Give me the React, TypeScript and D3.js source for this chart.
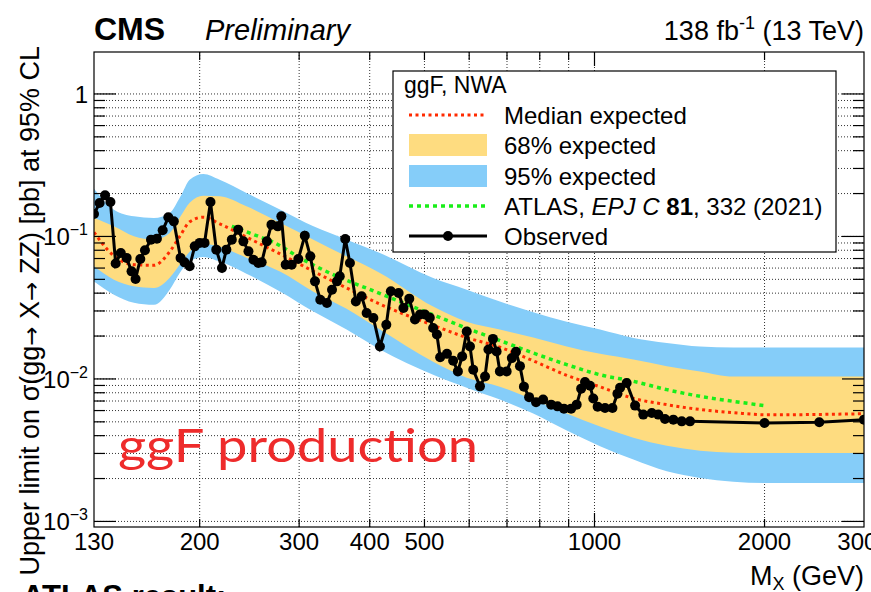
import * as d3 from "d3";

const W = 871;
const H = 592;
const marginLeft = 94;
const marginRight = 864;
const marginTop = 52;
const marginBottom = 527;

// observed limit (GeV, pb)
const obsMass = [
  130, 133, 136, 139, 142, 145, 148.5, 151.5, 154, 157, 160, 164, 168, 172, 176, 180, 185, 188, 192, 196,
  200, 204, 209, 214, 219, 223, 228, 234, 239, 244, 249, 254, 257.5, 263, 268, 275, 279, 284, 291, 299,
  307, 314, 320, 327, 336, 343, 350, 354, 362, 369, 378, 387, 395, 406, 417, 428, 436, 450, 459, 470,
  481, 491, 501, 511, 518, 526, 533, 548, 562, 573, 583, 594, 602, 610, 627, 640, 649, 661, 671, 680,
  699, 714, 726, 738, 750, 766, 788, 811, 838, 860, 883, 909, 930, 947, 962, 982, 995, 1013, 1044, 1076,
  1098, 1110, 1140, 1180, 1220, 1263, 1297, 1333, 1379, 1427, 1476, 2000, 2500, 3000,
];
const obsLimit = [
  0.1438, 0.1718, 0.1943, 0.1746, 0.0645, 0.0766, 0.0707, 0.0569, 0.0503, 0.0695, 0.0799, 0.095, 0.0965, 0.1104, 0.1362, 0.1276, 0.0707, 0.0658, 0.0617, 0.0852,
  0.0901, 0.0901, 0.1746, 0.0808, 0.0601, 0.0808, 0.095, 0.1116, 0.0924, 0.0786, 0.0687, 0.0652, 0.0658, 0.0924, 0.121, 0.1177, 0.1384, 0.0634, 0.0634, 0.0695,
  0.1013, 0.0725, 0.0484, 0.036, 0.0341, 0.0423, 0.0484, 0.0525, 0.0961, 0.0652, 0.035, 0.038, 0.029, 0.0268, 0.0169, 0.024, 0.0412, 0.0401, 0.0315, 0.0366,
  0.0261, 0.0283, 0.0283, 0.0269, 0.0228, 0.0205, 0.0142, 0.015, 0.0134, 0.0113, 0.0144, 0.0215, 0.0169, 0.0116, 0.00887, 0.0104, 0.0161, 0.0191, 0.0156, 0.0113,
  0.0113, 0.014, 0.0155, 0.0123, 0.00883, 0.00745, 0.00687, 0.00716, 0.0066, 0.00642, 0.00619, 0.00619, 0.0066, 0.00855, 0.0095, 0.00897, 0.00728, 0.00639, 0.00626, 0.00626,
  0.00788, 0.00869, 0.00937, 0.0065, 0.00562, 0.00577, 0.00562, 0.00524, 0.00518, 0.00504, 0.00504, 0.00491, 0.00496, 0.00518,
];

// expected limit and bands
const expMass = [130, 141, 153, 166, 177, 185, 192, 203, 217, 242, 278, 318, 364, 417, 518, 594, 680, 779, 893, 1023, 1172, 1343, 1538, 1761, 2018, 3000];
const expMedian = [0.107, 0.073, 0.0634, 0.0627, 0.0782, 0.1021, 0.1266, 0.1366, 0.1226, 0.0989, 0.0752, 0.0569, 0.0435, 0.0335, 0.0238, 0.0195, 0.0167, 0.0134, 0.0106, 0.0088, 0.0073, 0.0066, 0.0061, 0.0058, 0.0056, 0.0057];
const exp68Up = [0.1355, 0.1177, 0.1002, 0.095, 0.1058, 0.1384, 0.1726, 0.1933, 0.1911, 0.1627, 0.1244, 0.095, 0.0725, 0.0554, 0.0322, 0.0252, 0.0222, 0.0195, 0.0169, 0.015, 0.0137, 0.0123, 0.0113, 0.0104, 0.0104, 0.0104];
const exp68Down = [0.0617, 0.0497, 0.0447, 0.0435, 0.0514, 0.0645, 0.0782, 0.089, 0.0848, 0.071, 0.0566, 0.041, 0.0311, 0.0222, 0.0132, 0.0102, 0.00883, 0.00716, 0.00571, 0.00463, 0.00387, 0.0034, 0.00314, 0.00304, 0.00302, 0.00302];
const exp95Up = [0.2165, 0.1542, 0.1384, 0.1349, 0.1462, 0.1911, 0.2504, 0.2746, 0.2504, 0.202, 0.1542, 0.1177, 0.095, 0.0766, 0.0511, 0.0423, 0.0349, 0.0294, 0.0252, 0.0222, 0.0194, 0.0179, 0.0169, 0.0166, 0.0166, 0.0166];
const exp95Down = [0.0482, 0.039, 0.0343, 0.0332, 0.0423, 0.0566, 0.0666, 0.0718, 0.0666, 0.0548, 0.041, 0.0297, 0.0222, 0.0161, 0.0107, 0.00869, 0.00716, 0.00571, 0.00434, 0.00337, 0.00272, 0.00225, 0.00202, 0.0019, 0.00186, 0.00186];

// ATLAS, EPJ C 81, 332 (2021)
const atlasMass = [228, 241, 254, 268, 305, 350, 401, 459, 526, 594, 680, 779, 893, 1023, 1172, 1343, 1538, 1761, 2000];
const atlasLimit = [0.1177, 0.1086, 0.1002, 0.0924, 0.0687, 0.0525, 0.0423, 0.0341, 0.0275, 0.0227, 0.0186, 0.0152, 0.0126, 0.0107, 0.00962, 0.00841, 0.00755, 0.00696, 0.0065];

const xTickLabels = [130, 200, 300, 400, 500, 1000, 2000, 3000];
const xGrid = [200, 300, 400, 500, 600, 700, 800, 900, 1000, 2000];
const yTickLabels = [
  { v: 1, base: "1", exp: "" },
  { v: 0.1, base: "10", exp: "\u22121" },
  { v: 0.01, base: "10", exp: "\u22122" },
  { v: 0.001, base: "10", exp: "\u22123" },
];

const font = "'Liberation Sans', Arial, Helvetica, sans-serif";
const blue = "#85cdf9";
const yellow = "#fedc80";
const red = "#ff2a00";
const green = "#19ee19";

const App = () => {
  const x = d3.scaleLog().domain([130, 3000]).range([marginLeft, marginRight]);
  const y = d3.scaleLog().domain([9.14e-4, 1.97]).range([marginBottom, marginTop]);

  const idx = expMass.map((_, i) => i);
  const band = (lo: number[], hi: number[]) =>
    d3
      .area<number>()
      .x((i) => x(expMass[i]))
      .y0((i) => y(lo[i]))
      .y1((i) => y(hi[i]))
      .curve(d3.curveMonotoneX)(idx);

  const medianPath = d3
    .line<number>()
    .x((i) => x(expMass[i]))
    .y((i) => y(expMedian[i]))
    .curve(d3.curveMonotoneX)(idx);

  const atlasPath = d3
    .line<number>()
    .x((i) => x(atlasMass[i]))
    .y((i) => y(atlasLimit[i]))
    .curve(d3.curveMonotoneX)(atlasMass.map((_, i) => i));

  const obsPath = d3
    .line<number>()
    .x((i) => x(obsMass[i]))
    .y((i) => y(obsLimit[i]))(obsMass.map((_, i) => i));

  // y ticks on every k*10^n inside the range
  const yTicks: { v: number; major: boolean }[] = [];
  for (let n = -4; n <= 0; n++) {
    for (let k = 1; k <= 9; k++) {
      const v = k * Math.pow(10, n);
      if (v >= 9.14e-4 && v <= 1.97) yTicks.push({ v, major: k === 1 });
    }
  }

  const legendX = 393;
  const legendY = 71;
  const rowY = [115, 145, 176, 206, 236];
  const symX0 = 409;
  const symX1 = 487;
  const textX = 504;

  return (
    <div style={{ position: "fixed", left: 0, top: 0, width: W, height: H, background: "#fff" }}>
      <svg width={W} height={H} viewBox={`0 0 ${W} ${H}`} fontFamily={font}>
        <defs>
          <clipPath id="plot">
            <rect x={marginLeft} y={marginTop} width={marginRight - marginLeft} height={marginBottom - marginTop} />
          </clipPath>
        </defs>

        {/* grid */}
        <g stroke="#333" strokeWidth={1} strokeDasharray="1,2">
          {xGrid.map((m) => (
            <line key={m} x1={x(m)} x2={x(m)} y1={marginTop} y2={marginBottom} />
          ))}
          {yTicks.map((t) => (
            <line key={t.v} x1={marginLeft} x2={marginRight} y1={y(t.v)} y2={y(t.v)} />
          ))}
        </g>

        <g clipPath="url(#plot)">
          <path d={band(exp95Down, exp95Up) || ""} fill={blue} />
          <path d={band(exp68Down, exp68Up) || ""} fill={yellow} />
          <path d={atlasPath || ""} fill="none" stroke={green} strokeWidth={3.5} strokeDasharray="4,4" />
          <path d={medianPath || ""} fill="none" stroke={red} strokeWidth={3} strokeDasharray="3,3.5" />
          <path d={obsPath || ""} fill="none" stroke="#000" strokeWidth={3} />
          {obsMass.map((m, i) => (
            <circle key={m} cx={x(m)} cy={y(obsLimit[i])} r={5} fill="#000" />
          ))}
        </g>

        {/* frame and ticks */}
        <rect x={marginLeft} y={marginTop} width={marginRight - marginLeft} height={marginBottom - marginTop} fill="none" stroke="#000" strokeWidth={1.2} />
        <g stroke="#000" strokeWidth={1.2}>
          {yTicks.map((t) => {
            const len = t.major ? 22 : 11;
            return (
              <g key={t.v}>
                <line x1={marginLeft} x2={marginLeft + len} y1={y(t.v)} y2={y(t.v)} />
                <line x1={marginRight} x2={marginRight - len} y1={y(t.v)} y2={y(t.v)} />
              </g>
            );
          })}
          {xGrid.map((m) => {
            const len = m === 1000 ? 14 : 8;
            return (
              <g key={m}>
                <line x1={x(m)} x2={x(m)} y1={marginBottom} y2={marginBottom - len} />
                <line x1={x(m)} x2={x(m)} y1={marginTop} y2={marginTop + len} />
              </g>
            );
          })}
        </g>

        {/* x tick labels */}
        {xTickLabels.map((m) => (
          <text key={m} x={x(m)} y={550} textAnchor="middle" fontSize={24}>
            {m}
          </text>
        ))}

        {/* y tick labels */}
        {yTickLabels.map((t) => (
          <text key={t.v} x={88} y={y(t.v) + 9} textAnchor="end" fontSize={24}>
            {t.base}
            {t.exp && (
              <tspan fontSize={16} dy={-10}>
                {t.exp}
              </tspan>
            )}
          </text>
        ))}

        {/* axis titles */}
        <text x={864} y={585} textAnchor="end" fontSize={27}>
          M
          <tspan fontSize={18} dy={5}>X</tspan>
          <tspan dy={-5}> (GeV)</tspan>
        </text>
        <text transform="translate(39,46) rotate(-90)" textAnchor="end" fontSize={27}>
          Upper limit on σ(gg
          <tspan fontFamily="'DejaVu Sans'" fontSize={23}>→</tspan> X
          <tspan fontFamily="'DejaVu Sans'" fontSize={23}>→</tspan> ZZ) [pb] at 95% CL
        </text>

        {/* header */}
        <text x={94} y={40} fontSize={32} fontWeight="bold">
          CMS
        </text>
        <text x={205} y={40} fontSize={29} fontStyle="italic">
          Preliminary
        </text>
        <text x={864} y={40} textAnchor="end" fontSize={27}>
          138 fb
          <tspan fontSize={18} dy={-11}>-1</tspan>
          <tspan dy={11}> (13 TeV)</tspan>
        </text>

        {/* legend */}
        <rect x={legendX} y={legendY} width={836 - legendX} height={252 - legendY} fill="#fff" stroke="#000" strokeWidth={1.2} />
        <text x={404} y={93} fontSize={23}>
          ggF, NWA
        </text>
        <line x1={symX0} x2={symX1} y1={rowY[0]} y2={rowY[0]} stroke={red} strokeWidth={3} strokeDasharray="3,3.5" />
        <rect x={symX0} y={rowY[1] - 11} width={symX1 - symX0} height={22} fill={yellow} />
        <rect x={symX0} y={rowY[2] - 11} width={symX1 - symX0} height={22} fill={blue} />
        <line x1={symX0} x2={symX1} y1={rowY[3]} y2={rowY[3]} stroke={green} strokeWidth={3.5} strokeDasharray="4,4" />
        <line x1={symX0} x2={symX1} y1={rowY[4]} y2={rowY[4]} stroke="#000" strokeWidth={3} />
        <circle cx={(symX0 + symX1) / 2} cy={rowY[4]} r={5} fill="#000" />
        <g fontSize={24}>
          <text x={textX} y={rowY[0] + 8.5}>Median expected</text>
          <text x={textX} y={rowY[1] + 8.5}>68% expected</text>
          <text x={textX} y={rowY[2] + 8.5}>95% expected</text>
          <text x={textX} y={rowY[3] + 8.5}>
            ATLAS, <tspan fontStyle="italic">EPJ C</tspan> <tspan fontWeight="bold">81</tspan>, 332 (2021)
          </text>
          <text x={textX} y={rowY[4] + 8.5}>Observed</text>
        </g>

        {/* annotations */}
        <text x={118} y={462} fontSize={47} fill="#ee2b2b" fontFamily="Lato, 'Open Sans', sans-serif" fontWeight={400} textLength={360} lengthAdjust="spacingAndGlyphs">
          ggF production
        </text>
        <text x={22} y={607} fontSize={31} fontWeight="bold">
          ATLAS result:
        </text>
      </svg>
    </div>
  );
};

export default App;
